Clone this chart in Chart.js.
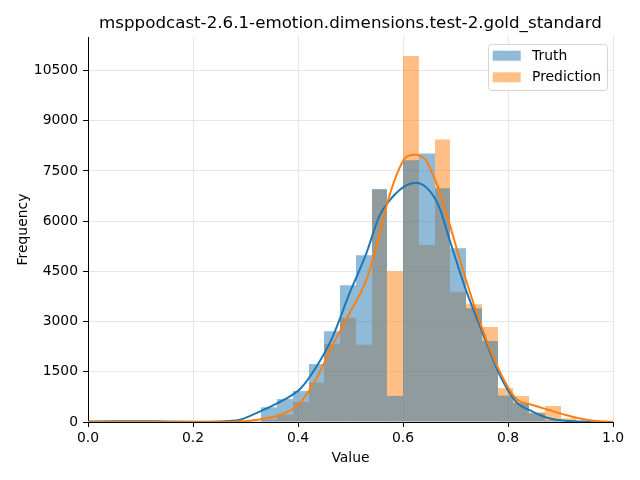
<!DOCTYPE html>
<html>
<head>
<meta charset="utf-8">
<script src="https://cdn.jsdelivr.net/npm/chart.js@4.4.0/dist/chart.umd.min.js"></script>
<style>
  html, body { margin: 0; padding: 0; background: #fff; }
  #wrap { width: 640px; height: 480px; }
</style>
</head>
<body>
<div id="wrap"><canvas id="chart" width="640" height="480"></canvas></div>
<script>
// bin starts (width 0.03)
const binStarts = [0.30, 0.33, 0.36, 0.39, 0.42, 0.45, 0.48, 0.51, 0.54, 0.57, 0.60,
                   0.63, 0.66, 0.69, 0.72, 0.75, 0.78, 0.81, 0.84, 0.87, 0.90, 0.93];
const truthCounts = [30, 440, 686, 925, 1730, 2714, 4086, 4980, 6960, 780, 7815,
                     8020, 6980, 5190, 3400, 2420, 790, 565, 260, 50, 20, 5];
const predCounts  = [10, 70, 220, 600, 1173, 2336, 3112, 2307, 6940, 4500, 10930,
                     5290, 8440, 3890, 3520, 2840, 1010, 775, 290, 477, 110, 20];

// density curves (scaled to counts)
const truthKdeX = [0.0, 0.05, 0.1, 0.15, 0.2, 0.25, 0.27, 0.29, 0.31, 0.33, 0.36, 0.39, 0.405,
                   0.435, 0.466, 0.498, 0.53, 0.555, 0.58, 0.606, 0.625, 0.65, 0.669, 0.688,
                   0.72, 0.752, 0.783, 0.815, 0.847, 0.878, 0.91, 0.95, 1.0];
const truthKdeY = [15, 20, 25, 15, 10, 15, 30, 70, 190, 330, 557, 820, 1000,
                   1650, 2545, 3840, 5030, 6150, 6720, 7070, 7150, 6920, 6420, 5480,
                   3940, 2650, 1450, 610, 310, 110, 40, 10, 2];
const predKdeX = [0.0, 0.25, 0.28, 0.308, 0.34, 0.371, 0.403, 0.435, 0.466, 0.498, 0.53, 0.549,
                  0.568, 0.587, 0.606, 0.622, 0.644, 0.656, 0.669, 0.688, 0.72, 0.752, 0.783,
                  0.815, 0.847, 0.878, 0.91, 0.942, 0.974, 1.0];
const predKdeY = [0, 0, 10, 40, 110, 240, 557, 1300, 2300, 3240, 4240, 5230,
                  6420, 7350, 7915, 7985, 7815, 7420, 6920, 5950, 4240, 2745, 1550,
                  705, 507, 358, 209, 90, 20, 5];

const yTicks = [0, 1500, 3000, 4500, 6000, 7500, 9000, 10500];
const xTicks = [0.0, 0.2, 0.4, 0.6, 0.8, 1.0];
const titleText = 'msppodcast-2.6.1-emotion.dimensions.test-2.gold_standard';
const legendItems = [
  { label: 'Truth', color: 'rgba(31,119,180,0.5)' },
  { label: 'Prediction', color: 'rgba(255,127,14,0.5)' }
];

const BIN_W = 0.03;
const FONT = 'DejaVu Sans';

function bars(counts) {
  return binStarts.map((s, i) => ({ x: s + BIN_W / 2, y: counts[i] }));
}
function curve(xs, ys) {
  return xs.map((x, i) => ({ x: x, y: ys[i] }));
}

// snap histogram bar edges to whole pixels so adjacent bins leave no seams
const snapBars = {
  id: 'snapBars',
  beforeDatasetsDraw(chart) {
    chart.data.datasets.forEach((ds, i) => {
      const meta = chart.getDatasetMeta(i);
      if (meta.type !== 'bar') return;
      meta.data.forEach(el => {
        const l = Math.round(el.x - el.width / 2);
        const r = Math.round(el.x + el.width / 2);
        el.x = (l + r) / 2;
        el.width = r - l;
      });
    });
  }
};

// title centred over the plot area + legend inside the plot, top right
const decorations = {
  id: 'decorations',
  afterDraw(chart) {
    const ctx = chart.ctx;
    const area = chart.chartArea;
    ctx.save();
    ctx.fillStyle = '#000';
    ctx.font = '16.7px "' + FONT + '"';
    ctx.textAlign = 'center';
    ctx.textBaseline = 'middle';
    ctx.fillText(titleText, (area.left + area.right) / 2, 23.5);

    const bx = 488.5, by = 44.5, bw = 119, bh = 46;
    ctx.fillStyle = 'rgba(255,255,255,0.8)';
    ctx.strokeStyle = '#d6d6d6';
    ctx.lineWidth = 1;
    ctx.beginPath();
    ctx.roundRect(bx, by, bw, bh, 3);
    ctx.fill();
    ctx.stroke();
    ctx.font = '13.9px "' + FONT + '"';
    ctx.textAlign = 'left';
    legendItems.forEach((it, i) => {
      const y = 50.7 + i * 21.6;
      ctx.fillStyle = it.color;
      ctx.fillRect(492.7, y, 28, 10);
      ctx.fillStyle = '#000';
      ctx.fillText(it.label, 532, y + 5.5);
    });
    ctx.restore();
  }
};

new Chart(document.getElementById('chart'), {
  type: 'bar',
  data: {
    datasets: [
      { type: 'line', label: 'Prediction KDE', data: curve(predKdeX, predKdeY),
        borderColor: '#ff7f0e', borderWidth: 2, pointRadius: 0, cubicInterpolationMode: 'monotone', order: 0 },
      { type: 'line', label: 'Truth KDE', data: curve(truthKdeX, truthKdeY),
        borderColor: '#1f77b4', borderWidth: 2, pointRadius: 0, cubicInterpolationMode: 'monotone', order: 1 },
      { label: 'Truth', data: bars(truthCounts), backgroundColor: 'rgba(31,119,180,0.5)',
        borderWidth: 0, inflateAmount: 0, grouped: false, barPercentage: 1, categoryPercentage: 1, order: 2 },
      { label: 'Prediction', data: bars(predCounts), backgroundColor: 'rgba(255,127,14,0.5)',
        borderWidth: 0, inflateAmount: 0, grouped: false, barPercentage: 1, categoryPercentage: 1, order: 3 }
    ]
  },
  options: {
    responsive: false,
    animation: false,
    layout: { padding: { left: 0, right: 27, top: 37, bottom: 0 } },
    plugins: {
      legend: { display: false },
      tooltip: { enabled: false },
      title: { display: false }
    },
    scales: {
      x: {
        type: 'linear', min: 0, max: 1, offset: false,
        afterFit: s => { s.height = 58; },
        afterBuildTicks: s => { s.ticks = xTicks.map(v => ({ value: v })); },
        ticks: { color: '#000', font: { family: FONT, size: 13.9 }, padding: 3,
                 maxRotation: 0, callback: v => v.toFixed(1) },
        grid: { color: '#e0e0e0', lineWidth: 0.8, offset: false, tickLength: 5, tickColor: '#000', tickWidth: 1 },
        border: { color: '#000', width: 1 },
        title: { display: true, text: 'Value', color: '#000',
                 font: { family: FONT, size: 13.9 }, padding: { top: 0, bottom: 13.7 } }
      },
      y: {
        type: 'linear', min: 0, max: 11500,
        afterFit: s => { s.width = 88; },
        afterBuildTicks: s => { s.ticks = yTicks.map(v => ({ value: v })); },
        ticks: { color: '#000', font: { family: FONT, size: 13.9 }, padding: 5,
                 callback: v => String(v) },
        grid: { color: '#e0e0e0', lineWidth: 0.8, tickLength: 5, tickColor: '#000', tickWidth: 1 },
        border: { color: '#000', width: 1 },
        title: { display: true, text: 'Frequency', color: '#000',
                 font: { family: FONT, size: 13.9 }, padding: { top: 15, bottom: 0 } }
      }
    }
  },
  plugins: [snapBars, decorations]
});
</script>
</body>
</html>
